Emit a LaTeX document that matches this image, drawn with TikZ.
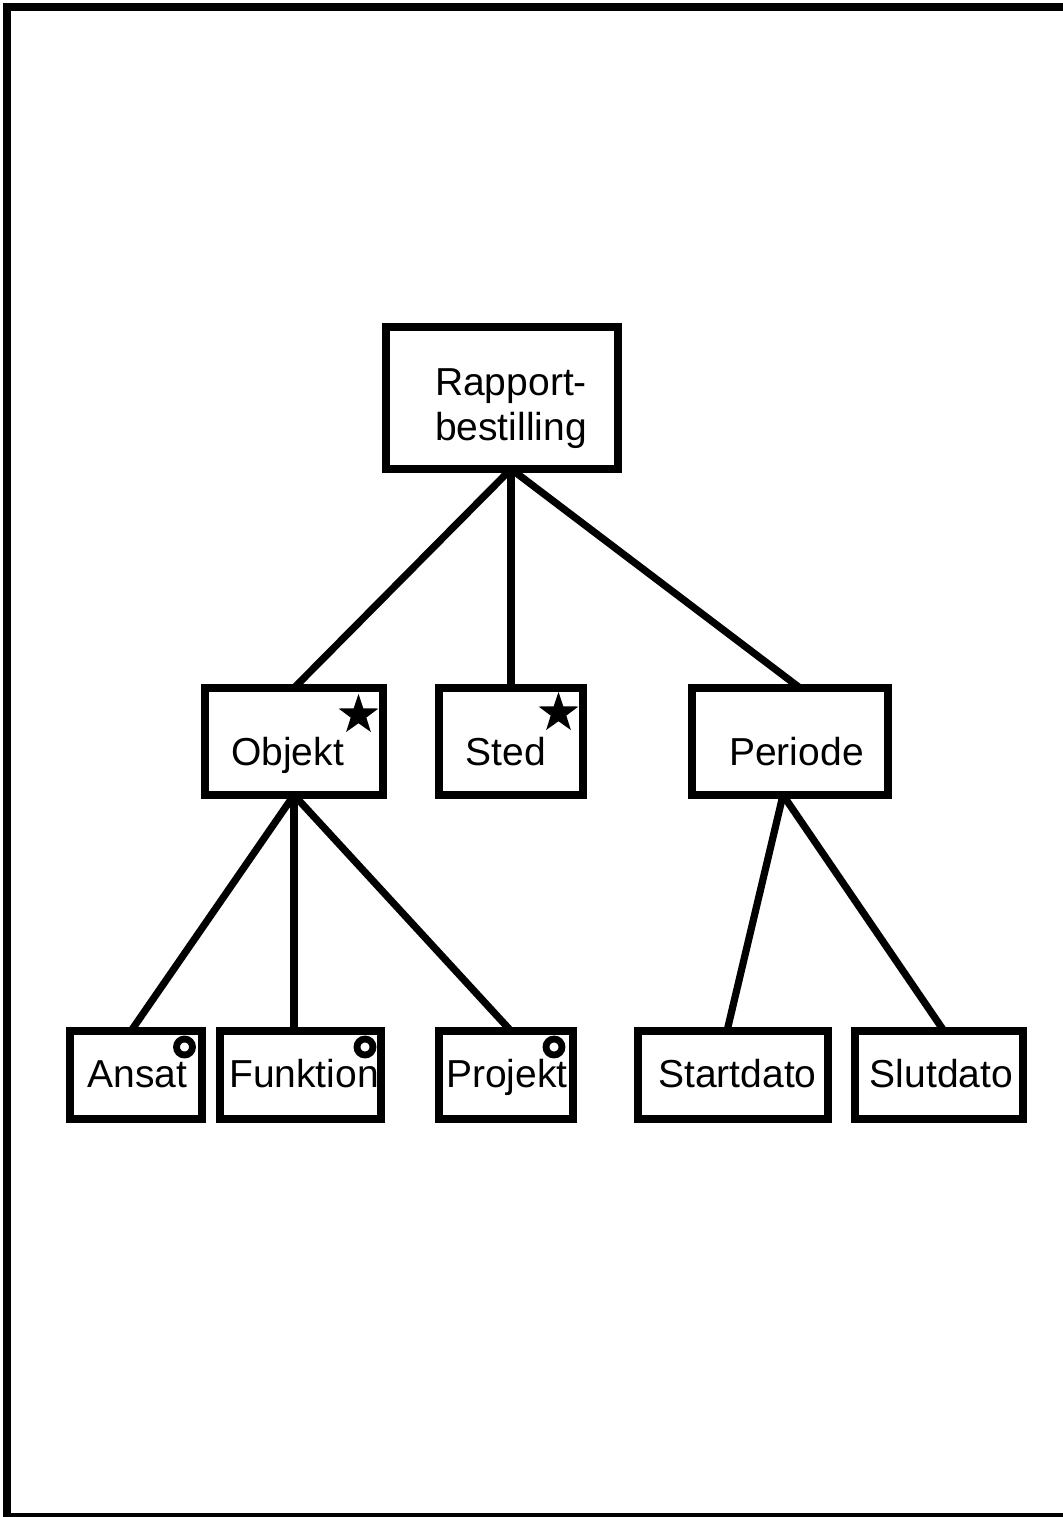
\documentclass[tikz,border=0pt]{standalone}
\usepackage{fontspec}
\setmainfont{Liberation Sans}
\usetikzlibrary{calc,shapes.geometric}
\newcommand\pxu{0.5pt}
\begin{document}
\begin{tikzpicture}[x=0.5pt,y=-0.5pt,
  box/.style={draw, line width=3.75pt, rectangle, inner sep=0pt, outer sep=0pt},
  lbl/.style={font=\fontsize{19.5pt}{22.5pt}\selectfont, inner sep=0pt, anchor=base},
  wire/.style={line width=3.6pt},
  starmark/.style={star, star points=5, star point ratio=2.55, fill=black, draw=none,
    inner sep=0pt, minimum size=42*\pxu},
  ringmark/.style={circle, draw, line width=3.4pt, inner sep=0pt, minimum size=16*\pxu, fill=white},
]
\useasboundingbox (0,0) rectangle (1063,1517);

% page frame (open on the right)
\draw[line width=4pt] (1090,7) -- (7,7) -- (7,1517) -- (1090,1517);

% boxes
\node[box, minimum width=232*\pxu, minimum height=142*\pxu] (rap)   at (502,398)   {};
\node[box, minimum width=178*\pxu, minimum height=107*\pxu] (obj)   at (294,741.5) {};
\node[box, minimum width=144*\pxu, minimum height=107*\pxu] (sted)  at (511,741.5) {};
\node[box, minimum width=196*\pxu, minimum height=107*\pxu] (per)   at (790,741.5) {};
\node[box, minimum width=132*\pxu, minimum height=88*\pxu]  (ans)   at (136,1075)  {};
\node[box, minimum width=161*\pxu, minimum height=88*\pxu]  (funk)  at (300.5,1075) {};
\node[box, minimum width=134*\pxu, minimum height=88*\pxu]  (proj)  at (506,1075)  {};
\node[box, minimum width=190*\pxu, minimum height=88*\pxu]  (start) at (733,1075)  {};
\node[box, minimum width=168*\pxu, minimum height=88*\pxu]  (slut)  at (939,1075)  {};

% labels
\node[lbl, align=center, anchor=center] (raptxt) at (511,409) {Rapport-\\bestilling};
\node[lbl] (objtxt)   at (287.5,765) {Objekt};
\node[lbl] (stedtxt)  at (506,765)   {Sted};
\node[lbl] (pertxt)   at (796.5,765) {Periode};
\node[lbl] (anstxt)   at (137.5,1087) {Ansat};
\node[lbl] (funktxt)  at (304,1087)  {Funktion};
\node[lbl] (projtxt)  at (507,1087)  {Projekt};
\node[lbl] (starttxt) at (737.5,1087) {Startdato};
\node[lbl] (sluttxt)  at (941.5,1087) {Slutdato};

% markers
\node[starmark] (objstar)  at (358.5,715) {};
\node[starmark] (stedstar) at (558.5,713) {};
\node[ringmark] (ansring)  at (184.5,1047) {};
\node[ringmark] (funkring) at (365,1047) {};
\node[ringmark] (projring) at (554,1047) {};

% connectors
\coordinate (raproot) at (rap.south -| sted.north);
\coordinate (objfoot) at (obj.south);
\coordinate (perfoot) at ($(per.south)+(-7,0)$);
\draw[wire] (raproot) -- (obj.north);
\draw[wire] (raproot) -- (sted.north);
\draw[wire] (raproot) -- ($(per.north)+(10,0)$);
\draw[wire] (objfoot) -- ($(ans.north)+(-5,0)$);
\draw[wire] (objfoot) -- (objfoot |- funk.north);
\draw[wire] (objfoot) -- ($(proj.north)+(5,0)$);
\draw[wire] (perfoot) -- ($(start.north)+(-6,0)$);
\draw[wire] (perfoot) -- ($(slut.north)+(5,0)$);
\end{tikzpicture}
\end{document}
